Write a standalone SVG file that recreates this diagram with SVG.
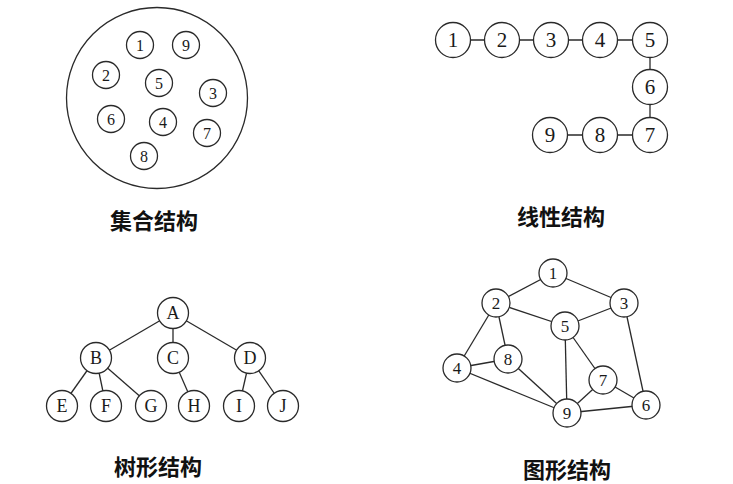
<svg xmlns="http://www.w3.org/2000/svg" width="733" height="484" viewBox="0 0 733 484">
<style>
circle{fill:#fff;stroke:#2a2a2a;stroke-width:1.3}
.e line{stroke:#2a2a2a;stroke-width:1.3}
text{font-family:"Liberation Serif","Times New Roman",serif;fill:#1a1a1a;text-anchor:middle;dominant-baseline:central}
.s{font-size:16px}
.l{font-size:21px}
.t{font-size:18px}
.g{font-size:17px}
.cap{font-family:"Noto Sans CJK SC","Noto Sans CJK JP",sans-serif;font-size:22px;font-weight:bold;fill:#111}
</style>
<rect width="733" height="484" fill="#fff"/>
<!-- Set structure -->
<g id="set">
<circle cx="157" cy="98" r="90.5"/>
<g id="s1"><circle cx="140" cy="45" r="13.5"/><text class="s" x="140" y="45">1</text></g>
<g id="s9"><circle cx="186" cy="45" r="13.5"/><text class="s" x="186" y="45">9</text></g>
<g id="s2"><circle cx="106" cy="75" r="13.5"/><text class="s" x="106" y="75">2</text></g>
<g id="s5"><circle cx="159" cy="83" r="13.5"/><text class="s" x="159" y="83">5</text></g>
<g id="s3"><circle cx="213" cy="93" r="13.5"/><text class="s" x="213" y="93">3</text></g>
<g id="s6"><circle cx="111" cy="119" r="13.5"/><text class="s" x="111" y="119">6</text></g>
<g id="s4"><circle cx="163" cy="122" r="13.5"/><text class="s" x="163" y="122">4</text></g>
<g id="s7"><circle cx="207" cy="133" r="13.5"/><text class="s" x="207" y="133">7</text></g>
<g id="s8"><circle cx="144" cy="156" r="13.5"/><text class="s" x="144" y="156">8</text></g>
</g>
<text class="cap" x="154" y="219">集合结构</text>
<!-- Linear structure -->
<g id="linear-edges" class="e">
<line x1="453" y1="40" x2="650" y2="40"/>
<line x1="650" y1="40" x2="650" y2="135"/>
<line x1="550" y1="135" x2="650" y2="135"/>
</g>
<g id="l1"><circle cx="453" cy="40" r="17.5"/><text class="l" x="453" y="40">1</text></g>
<g id="l2"><circle cx="502" cy="40" r="17.5"/><text class="l" x="502" y="40">2</text></g>
<g id="l3"><circle cx="551" cy="40" r="17.5"/><text class="l" x="551" y="40">3</text></g>
<g id="l4"><circle cx="600" cy="40" r="17.5"/><text class="l" x="600" y="40">4</text></g>
<g id="l5"><circle cx="650" cy="40" r="17.5"/><text class="l" x="650" y="40">5</text></g>
<g id="l6"><circle cx="650" cy="87" r="17.5"/><text class="l" x="650" y="87">6</text></g>
<g id="l7"><circle cx="650" cy="135" r="17.5"/><text class="l" x="650" y="135">7</text></g>
<g id="l8"><circle cx="600" cy="135" r="17.5"/><text class="l" x="600" y="135">8</text></g>
<g id="l9"><circle cx="550" cy="135" r="17.5"/><text class="l" x="550" y="135">9</text></g>
<text class="cap" x="561" y="215">线性结构</text>
<!-- Tree structure -->
<g id="tree-edges" class="e">
<line x1="173" y1="313" x2="96" y2="358"/>
<line x1="173" y1="313" x2="173" y2="358"/>
<line x1="173" y1="313" x2="250" y2="358"/>
<line x1="96" y1="358" x2="62" y2="406"/>
<line x1="96" y1="358" x2="106" y2="406"/>
<line x1="96" y1="358" x2="151" y2="406"/>
<line x1="173" y1="358" x2="194" y2="406"/>
<line x1="250" y1="358" x2="239" y2="406"/>
<line x1="250" y1="358" x2="283" y2="406"/>
</g>
<g id="tA"><circle cx="173" cy="313" r="15.5"/><text class="t" x="173" y="313">A</text></g>
<g id="tB"><circle cx="96" cy="358" r="15.5"/><text class="t" x="96" y="358">B</text></g>
<g id="tC"><circle cx="173" cy="358" r="15.5"/><text class="t" x="173" y="358">C</text></g>
<g id="tD"><circle cx="250" cy="358" r="15.5"/><text class="t" x="250" y="358">D</text></g>
<g id="tE"><circle cx="62" cy="406" r="15.5"/><text class="t" x="62" y="406">E</text></g>
<g id="tF"><circle cx="106" cy="406" r="15.5"/><text class="t" x="106" y="406">F</text></g>
<g id="tG"><circle cx="151" cy="406" r="15.5"/><text class="t" x="151" y="406">G</text></g>
<g id="tH"><circle cx="194" cy="406" r="15.5"/><text class="t" x="194" y="406">H</text></g>
<g id="tI"><circle cx="239" cy="406" r="15.5"/><text class="t" x="239" y="406">I</text></g>
<g id="tJ"><circle cx="283" cy="406" r="15.5"/><text class="t" x="283" y="406">J</text></g>
<text class="cap" x="158" y="465">树形结构</text>
<!-- Graph structure -->
<g id="graph-edges" class="e">
<line x1="553" y1="273" x2="496" y2="303"/>
<line x1="553" y1="273" x2="624" y2="303"/>
<line x1="496" y1="303" x2="565" y2="326"/>
<line x1="624" y1="303" x2="565" y2="326"/>
<line x1="496" y1="303" x2="457" y2="368"/>
<line x1="496" y1="303" x2="508" y2="359"/>
<line x1="457" y1="368" x2="508" y2="359"/>
<line x1="457" y1="368" x2="567" y2="413"/>
<line x1="508" y1="359" x2="567" y2="413"/>
<line x1="565" y1="326" x2="567" y2="413"/>
<line x1="565" y1="326" x2="603" y2="380"/>
<line x1="624" y1="303" x2="646" y2="405"/>
<line x1="603" y1="380" x2="646" y2="405"/>
<line x1="603" y1="380" x2="567" y2="413"/>
<line x1="646" y1="405" x2="567" y2="413"/>
</g>
<g id="g1"><circle cx="553" cy="273" r="14"/><text class="g" x="553" y="273">1</text></g>
<g id="g2"><circle cx="496" cy="303" r="14"/><text class="g" x="496" y="303">2</text></g>
<g id="g3"><circle cx="624" cy="303" r="14"/><text class="g" x="624" y="303">3</text></g>
<g id="g5"><circle cx="565" cy="326" r="14"/><text class="g" x="565" y="326">5</text></g>
<g id="g8"><circle cx="508" cy="359" r="14"/><text class="g" x="508" y="359">8</text></g>
<g id="g4"><circle cx="457" cy="368" r="14"/><text class="g" x="457" y="368">4</text></g>
<g id="g7"><circle cx="603" cy="380" r="14"/><text class="g" x="603" y="380">7</text></g>
<g id="g6"><circle cx="646" cy="405" r="14"/><text class="g" x="646" y="405">6</text></g>
<g id="g9"><circle cx="567" cy="413" r="14"/><text class="g" x="567" y="413">9</text></g>
<text class="cap" x="567" y="468">图形结构</text>
</svg>
